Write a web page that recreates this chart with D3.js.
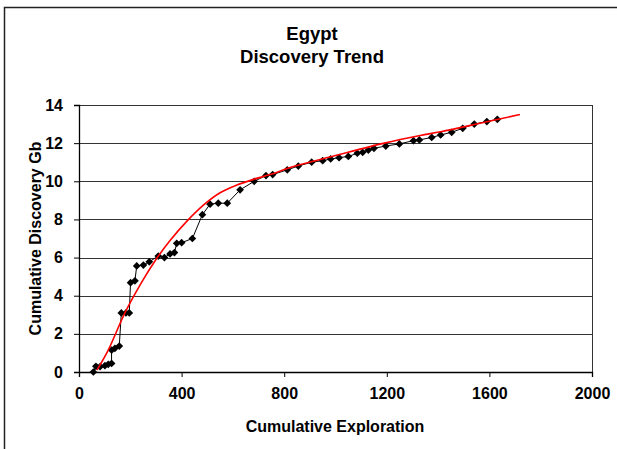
<!DOCTYPE html>
<html>
<head>
<meta charset="utf-8">
<script src="https://cdn.jsdelivr.net/npm/d3@7"></script>
<style>
  body { margin: 0; background: #fff; }
  svg { display: block; font-family: "Liberation Sans", Arial, sans-serif; }
</style>
</head>
<body>
<div id="chart"></div>
<script>
// discovery data
const explorationX = [56, 66, 82, 101, 114, 127, 127, 140, 157, 165, 183, 196, 201, 218, 225, 251, 274, 309, 333, 355, 372, 381, 400, 442, 481, 511, 543, 578, 628, 683, 729, 755, 812, 855, 907, 950, 981, 1014, 1050, 1085, 1106, 1128, 1150, 1196, 1249, 1304, 1327, 1375, 1410, 1453, 1496, 1541, 1590, 1631];
const discoveryY = [0.0, 0.3, 0.28, 0.33, 0.4, 0.45, 1.15, 1.24, 1.36, 3.1, 3.1, 3.1, 4.68, 4.78, 5.56, 5.61, 5.78, 6.08, 6.0, 6.19, 6.26, 6.75, 6.78, 7.0, 8.25, 8.8, 8.85, 8.85, 9.55, 10.0, 10.3, 10.35, 10.6, 10.8, 11.0, 11.08, 11.17, 11.24, 11.3, 11.47, 11.52, 11.64, 11.73, 11.85, 11.96, 12.13, 12.17, 12.3, 12.43, 12.57, 12.78, 13.0, 13.13, 13.25];

// fitted trend (red)
const trendX = [70, 114, 179, 244, 300, 355, 420, 485, 550, 615, 680, 745, 830, 1000, 1190, 1330, 1410, 1550, 1719];
const trendY = [0.1, 1.15, 3.1, 4.7, 5.9, 6.9, 7.9, 8.75, 9.4, 9.8, 10.1, 10.35, 10.75, 11.35, 12.0, 12.4, 12.6, 13.0, 13.5];

const xTicks = [0, 400, 800, 1200, 1600, 2000];
const yTicks = [0, 2, 4, 6, 8, 10, 12, 14];

const W = 617, H = 449;
const margin = { top: 105, right: 25, bottom: 77, left: 79 };
const width = W - margin.left - margin.right;
const height = H - margin.top - margin.bottom;

const svg = d3.select('#chart').append('svg').attr('width', W).attr('height', H);

// outer frame (only top and left visible)
svg.append('path').attr('d', `M4.5,${H} L4.5,7.5 L${W},7.5`)
    .attr('fill', 'none').attr('stroke', '#222').attr('stroke-width', 1.5);

svg.append('text').attr('x', 312).attr('y', 40).attr('text-anchor', 'middle')
    .style('font-size', '18.5px').style('font-weight', 'bold').text('Egypt');
svg.append('text').attr('x', 312).attr('y', 63).attr('text-anchor', 'middle')
    .style('font-size', '18.5px').style('font-weight', 'bold').text('Discovery Trend');

const g = svg.append('g').attr('transform', `translate(${margin.left},${margin.top})`);

const x = d3.scaleLinear().domain([0, 2000]).range([0, width]);
const y = d3.scaleLinear().domain([0, 14]).range([height, 0]);

// gridlines
g.append('g').selectAll('line').data(yTicks.slice(1)).join('line')
    .attr('x1', 0).attr('x2', width)
    .attr('y1', d => Math.round(y(d)) + 0.5).attr('y2', d => Math.round(y(d)) + 0.5)
    .attr('stroke', '#333').attr('stroke-width', 1);

// right border
g.append('line').attr('x1', width + 0.5).attr('x2', width + 0.5).attr('y1', 0).attr('y2', height)
    .attr('stroke', '#333');

const xAxis = g.append('g').attr('transform', `translate(0,${height})`)
    .call(d3.axisBottom(x).tickValues(xTicks).tickSize(5).tickPadding(11).tickFormat(d3.format('d')));
const yAxis = g.append('g')
    .call(d3.axisLeft(y).tickValues(yTicks).tickSize(5).tickPadding(11));

[xAxis, yAxis].forEach(ax => {
    ax.select('.domain').attr('stroke', '#000').attr('stroke-width', 1.3);
    ax.selectAll('.tick line').attr('stroke', '#000');
    ax.selectAll('.tick text').style('font-size', '16px').style('font-weight', 'bold')
        .style('font-family', '"Liberation Sans", Arial, sans-serif').attr('fill', '#000');
});

g.append('text').attr('x', 256).attr('y', height + 60).attr('text-anchor', 'middle')
    .style('font-size', '16px').style('font-weight', 'bold').text('Cumulative Exploration');
g.append('text').attr('transform', `translate(-38,${height / 2}) rotate(-90)`)
    .attr('text-anchor', 'middle')
    .style('font-size', '16px').style('font-weight', 'bold').text('Cumulative Discovery Gb');

// data line + diamonds
const pts = explorationX.map((v, i) => ({ x: v, y: discoveryY[i] }));
const line = d3.line().x(d => x(d.x)).y(d => y(d.y));
g.append('path').datum(pts).attr('fill', 'none').attr('stroke', '#000').attr('stroke-width', 1).attr('d', line);

g.append('g').selectAll('path').data(pts).join('path')
    .attr('transform', d => `translate(${x(d.x)},${y(d.y)}) rotate(45)`)
    .attr('d', d3.symbol().type(d3.symbolSquare).size(30))
    .attr('fill', '#000');

// trend curve
const trend = trendX.map((v, i) => ({ x: v, y: trendY[i] }));
g.append('path').datum(trend).attr('fill', 'none').attr('stroke', '#f00').attr('stroke-width', 1.6)
    .attr('d', d3.line().curve(d3.curveCatmullRom.alpha(0.5)).x(d => x(d.x)).y(d => y(d.y)));
</script>
</body>
</html>
